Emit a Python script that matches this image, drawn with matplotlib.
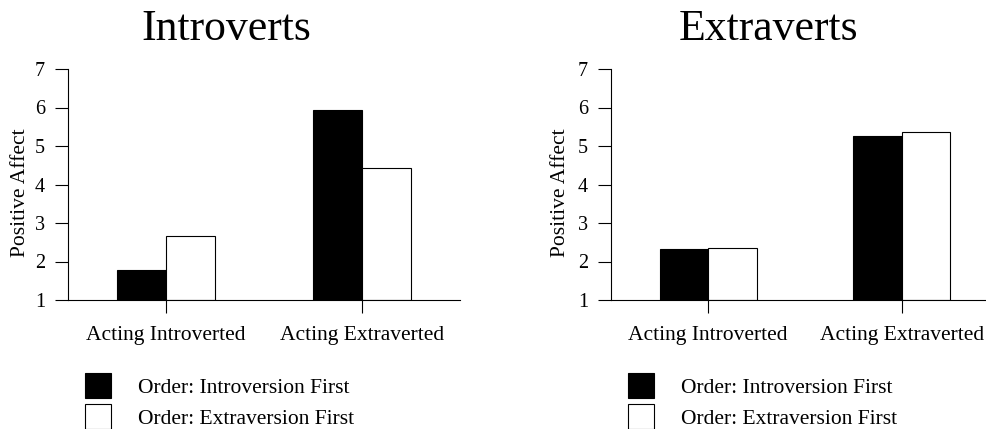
import numpy as np
import matplotlib
matplotlib.use('Agg')
import matplotlib.pyplot as plt

plt.rcParams['font.family'] = ['Liberation Serif', 'DejaVu Serif']

categories = ['Acting Introverted', 'Acting Extraverted']
series_names = ['Order: Introversion First', 'Order: Extraversion First']
titles = ['Introverts', 'Extraverts']
# values per panel: [introversion first, extraversion first]
introverts_intro_first = [1.78, 5.93]
introverts_extra_first = [2.65, 4.42]
extraverts_intro_first = [2.33, 5.27]
extraverts_extra_first = [2.35, 5.36]
yticks = [1, 2, 3, 4, 5, 6, 7]

W, H = 987, 429
fig = plt.figure(figsize=(W / 100, H / 100), dpi=100)

def px(x, y):
    return x / W, 1 - y / H

panels = [
    (68, 392, 226, -0.097, introverts_intro_first, introverts_extra_first),
    (611, 388, 769, -0.106, extraverts_intro_first, extraverts_extra_first),
]

for (left, width, tx, lab_x, s1, s2), title in zip(panels, titles):
    x0, y0 = px(left, 300)
    ax = fig.add_axes([x0, y0, width / W, 231 / H])
    x = np.arange(len(categories))
    bw = 0.25
    b1 = ax.bar(x - bw / 2, np.array(s1) - 1, bw, bottom=1, color='black',
                edgecolor='black', linewidth=0.8, label=series_names[0])
    b2 = ax.bar(x + bw / 2, np.array(s2) - 1, bw, bottom=1, color='white',
                edgecolor='black', linewidth=0.8, label=series_names[1])
    ax.set_xlim(-0.5, 1.5)
    ax.set_ylim(1, 7)
    ax.set_yticks(yticks)
    ax.set_xticks(x)
    ax.set_xticklabels(categories, fontsize=15.5)
    ax.tick_params(axis='y', labelsize=14.5, length=9.4, width=0.8, pad=7)
    ax.tick_params(axis='x', length=9.5, width=0.8, pad=9)
    for s in ['top', 'right']:
        ax.spines[s].set_visible(False)
    for s in ['left', 'bottom']:
        ax.spines[s].set_linewidth(0.8)
    ax.set_ylabel('Positive Affect', fontsize=15.5)
    ax.yaxis.set_label_coords(lab_x, 0.465)
    tx_f, ty_f = px(tx, 40)
    fig.text(tx_f, ty_f, title, fontsize=31.5, ha='center', va='baseline')
    lx, ly = px(left + 17, 373)
    fig.legend(handles=[b1, b2], loc='upper left', bbox_to_anchor=(lx, ly),
               frameon=False, fontsize=15.5, borderpad=0, borderaxespad=0,
               handlelength=1.21, handleheight=1.41, handletextpad=1.25,
               labelspacing=0.28)

fig.savefig('out.png', dpi=100)
